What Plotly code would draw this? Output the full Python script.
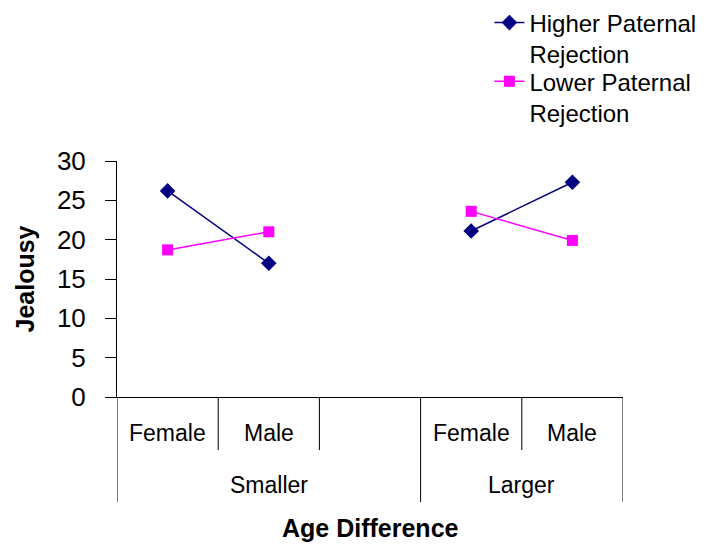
import plotly.graph_objects as go

categories = ["Female", "Male", "", "Female", "Male"]
groups = ["Smaller", "Larger"]
group_spans = [(0, 2), (3, 4)]
higher = [26.2, 17.0, None, 21.1, 27.3]
lower = [18.7, 21.0, None, 23.6, 19.9]
y_ticks = [0, 5, 10, 15, 20, 25, 30]

FONT = "Liberation Sans, Arial, sans-serif"
x_idx = list(range(len(categories)))

fig = go.Figure()
fig.add_trace(go.Scatter(
    x=x_idx, y=higher, mode="lines+markers", name="Higher Paternal<br>Rejection",
    line=dict(color="#000080", width=1.5),
    marker=dict(symbol="diamond", size=12, color="#000080"),
    legend="legend",
))
fig.add_trace(go.Scatter(
    x=x_idx, y=lower, mode="lines+markers", name="Lower Paternal<br>Rejection",
    line=dict(color="#FF00FF", width=1.5),
    marker=dict(symbol="square", size=11, color="#FF00FF"),
    legend="legend2",
))

W, H = 711, 545
ml, mr, mt, mb = 117, 88, 161, 148
ph = H - mt - mb

def py(px_below):
    return -px_below / ph

shapes = []
for i in range(len(categories) + 1):
    xpos = i - 0.5
    outer = i in (0, 3, 5)
    shapes.append(dict(type="line", xref="x", yref="paper", x0=xpos, x1=xpos,
                       y0=0, y1=py(105 if outer else 53),
                       line=dict(color="black", width=1)))

annotations = []
for i, c in enumerate(categories):
    if c:
        annotations.append(dict(x=i, y=py(36), xref="x", yref="paper", text=c,
                                showarrow=False, font=dict(size=23, color="black", family=FONT),
                                yanchor="middle"))
for g, (a, b) in zip(groups, group_spans):
    left = a - 0.5
    right = (b + 0.5) if g != "Smaller" else 2.5
    annotations.append(dict(x=(left + right) / 2, y=py(88), xref="x", yref="paper", text=g,
                            showarrow=False, font=dict(size=23, color="black", family=FONT),
                            yanchor="middle"))
annotations.append(dict(x=0.5, y=py(131), xref="paper", yref="paper", text="<b>Age Difference</b>",
                        showarrow=False, font=dict(size=25, color="black", family=FONT),
                        yanchor="middle"))

leg_common = dict(xanchor="left", yanchor="top",
                  font=dict(size=24, family=FONT, color="black"),
                  valign="top", bgcolor="rgba(0,0,0,0)")

fig.update_layout(
    width=W, height=H,
    margin=dict(l=ml, r=mr, t=mt, b=mb, autoexpand=False),
    paper_bgcolor="white", plot_bgcolor="white",
    font=dict(family=FONT, color="black"),
    showlegend=True,
    legend=dict(x=0.736, y=1.680, **leg_common),
    legend2=dict(x=0.736, y=1.432, **leg_common),
    xaxis=dict(range=[-0.5, 4.5], showticklabels=False, showgrid=False, zeroline=False,
               showline=True, linecolor="black", linewidth=1, ticks=""),
    yaxis=dict(range=[0, 30], tickvals=y_ticks, showgrid=False, zeroline=False,
               showline=True, linecolor="black", linewidth=1,
               ticks="outside", ticklen=11, tickcolor="black", ticklabelstandoff=14,
               tickfont=dict(size=26, family=FONT, color="black"),
               title=dict(text="<b>Jealousy</b>", font=dict(size=25, family=FONT, color="black"),
                          standoff=15)),
    shapes=shapes,
    annotations=annotations,
)

fig.write_html("out.html")
